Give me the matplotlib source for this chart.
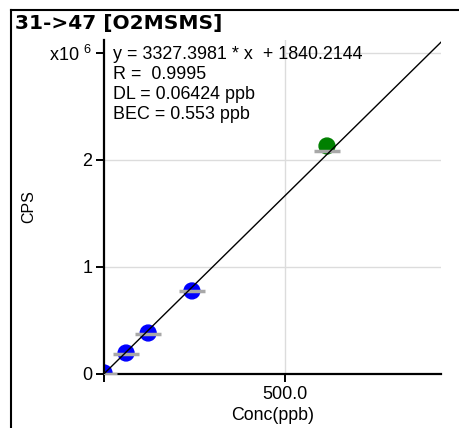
import matplotlib
matplotlib.use("Agg")
import matplotlib.pyplot as plt
from matplotlib.lines import Line2D

plt.rcParams["font.family"] = ["Liberation Sans", "DejaVu Sans"]
plt.rcParams["mathtext.default"] = "regular"

# calibration points
conc = [0.0, 61.0, 122.0, 243.0, 616.0]
cps = [0.01e6, 0.196e6, 0.383e6, 0.776e6, 2.13e6]
point_colors = ["#0000ff", "#0000ff", "#0000ff", "#0000ff", "#008000"]
# gray reference bars drawn through each point
bar_cps = [0.0, 0.187e6, 0.374e6, 0.78e6, 2.08e6]

slope = 3327.3981
intercept = 1840.2144
fit_x = [0.0, 940.0]

x_ticks = [0.0, 500.0]
x_tick_labels = ["", "500.0"]
y_ticks = [0.0, 1e6, 2e6, 3e6]
y_tick_labels = ["0", "1", "2", "x10 $^{6}$"]
x_grid = [500.0]
y_grid = [1e6, 2e6]

title = "31->47 [O2MSMS]"
info = "y = 3327.3981 * x  + 1840.2144\nR =  0.9995\nDL = 0.06424 ppb\nBEC = 0.553 ppb"

W, H = 460, 428
fig = plt.figure(figsize=(W / 100, H / 100), dpi=100)
ax = fig.add_axes([104 / W, 54 / H, 337 / W, 334 / H])
ax.set_xlim(0, 931)
ax.set_ylim(0, 3.12e6)

for gx in x_grid:
    ax.axvline(gx, color="#dcdcdc", lw=1, zorder=0)
for gy in y_grid:
    ax.axhline(gy, color="#dcdcdc", lw=1, zorder=0)
ax.hlines(3e6, 500, 931, color="#dcdcdc", lw=1, zorder=0)

ax.scatter(conc, cps, c=point_colors, s=130, marker="o", zorder=2)
ax.scatter(conc, bar_cps, color="#a8a8a8", marker="_", s=330, linewidths=2.5, zorder=3)
ax.plot(fit_x, [slope * v + intercept for v in fit_x], color="black", lw=1, zorder=4)

for side in ("top", "right"):
    ax.spines[side].set_visible(False)
for side in ("left", "bottom"):
    ax.spines[side].set_linewidth(1.6)

ax.set_xticks(x_ticks)
ax.set_xticklabels(x_tick_labels)
ax.set_yticks(y_ticks)
ax.set_yticklabels(y_tick_labels)
ax.tick_params(direction="out", length=5.5, width=1.4, labelsize=13)
ax.tick_params(axis="x", pad=3)
ax.tick_params(axis="y", pad=3)
ax.set_xlabel("Conc(ppb)", fontsize=12.8, labelpad=3)
ax.set_ylabel("CPS", fontsize=11.5)
ax.yaxis.set_label_coords(-0.2, 0.5)

fig.text(113 / W, 1 - 46 / H, info, fontsize=12.9, va="top", ha="left", linespacing=1.22)
fig.text(15 / W, 1 - 23 / H, title, fontsize=14.5, fontweight="bold", va="center", ha="left",
         family="DejaVu Sans")

fig.add_artist(Line2D([11 / W, 11 / W], [0, 1 - 10 / H], color="black", lw=1.5))
fig.add_artist(Line2D([11 / W, 1], [1 - 10 / H, 1 - 10 / H], color="black", lw=1.5))

fig.savefig("out.png", dpi=100)
